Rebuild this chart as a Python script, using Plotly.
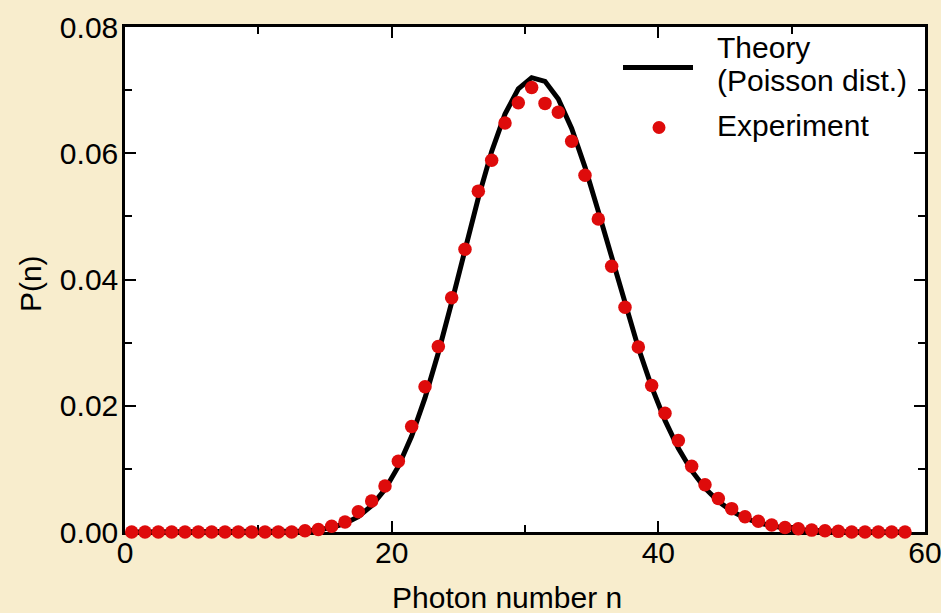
import plotly.graph_objects as go

# ---- data ----
photon_n = [0.5, 1.5, 2.5, 3.5, 4.5, 5.5, 6.5, 7.5, 8.5, 9.5,
            10.5, 11.5, 12.5, 13.5, 14.5, 15.5, 16.5, 17.5, 18.5, 19.5,
            20.5, 21.5, 22.5, 23.5, 24.5, 25.5, 26.5, 27.5, 28.5, 29.5,
            30.5, 31.5, 32.5, 33.5, 34.5, 35.5, 36.5, 37.5, 38.5, 39.5,
            40.5, 41.5, 42.5, 43.5, 44.5, 45.5, 46.5, 47.5, 48.5, 49.5,
            50.5, 51.5, 52.5, 53.5, 54.5, 55.5, 56.5, 57.5, 58.5]

theory_p = [0.0, 0.0, 0.0, 0.0, 0.0, 0.0, 0.0, 0.0, 0.0, 0.0,
            0.00001, 0.00003, 0.00007, 0.00016, 0.00034, 0.00070, 0.00135, 0.00244, 0.00417, 0.00675,
            0.01038, 0.01520, 0.02124, 0.02840, 0.03639, 0.04476, 0.05294, 0.06029, 0.06621, 0.07021,
            0.07197, 0.07139, 0.06860, 0.06392, 0.05781, 0.05079, 0.04338, 0.03605, 0.02917, 0.02300,
            0.01768, 0.01326, 0.00971, 0.00694, 0.00485, 0.00331, 0.00221, 0.00145, 0.00093, 0.00058,
            0.00036, 0.00022, 0.00013, 0.00007, 0.00004, 0.00002, 0.00001, 0.0, 0.0]

experiment_p = [0.0, 0.0, 0.0, 0.0, 0.0, 0.0, 0.0, 0.0, 0.0, 0.0,
                0.0, 0.0, 0.0, 0.0002, 0.0004, 0.0009, 0.0016, 0.0032, 0.0049, 0.0073,
                0.0112, 0.0167, 0.0230, 0.0294, 0.0371, 0.0448, 0.0540, 0.0589, 0.0648, 0.0680,
                0.0704, 0.0679, 0.0665, 0.0619, 0.0565, 0.0496, 0.0421, 0.0356, 0.0293, 0.0232,
                0.0188, 0.0145, 0.0104, 0.0075, 0.0053, 0.0037, 0.0024, 0.0017, 0.0011, 0.0007,
                0.0005, 0.0003, 0.0002, 0.0001, 0.0, 0.0, 0.0, 0.0, 0.0]

x_ticks = [0, 20, 40, 60]
y_ticks = [0.00, 0.02, 0.04, 0.06, 0.08]

FONT = "Liberation Sans, Arial, Helvetica, sans-serif"
FS = 30
RED = "#DE0B0B"
BG = "#F8EDCD"

fig = go.Figure()
fig.add_trace(go.Scatter(x=photon_n, y=theory_p, mode="lines",
                         line=dict(color="black", width=5),
                         name="Theory (Poisson dist.)", showlegend=False,
                         cliponaxis=False))
fig.add_trace(go.Scatter(x=photon_n, y=experiment_p, mode="markers",
                         marker=dict(color=RED, size=13.5, line=dict(width=0)),
                         name="Experiment", showlegend=False,
                         cliponaxis=False))

axis_common = dict(showline=True, linecolor="black", linewidth=2.5, mirror="ticks",
                   ticks="inside", ticklen=11, tickwidth=2, tickcolor="black",
                   showgrid=False, zeroline=False, layer="below traces",
                   automargin=False, ticklabeloverflow="allow",
                   tickfont=dict(family=FONT, size=FS, color="black"))

fig.update_xaxes(range=[0, 60], tickvals=x_ticks, ticktext=[str(v) for v in x_ticks],
                 minor=dict(dtick=10, tick0=0, ticks="inside", ticklen=7, tickwidth=2,
                            tickcolor="black", showgrid=False),
                 ticklabelstandoff=-8,
                 **axis_common)
fig.update_yaxes(range=[0, 0.08], tickvals=y_ticks, ticktext=[f"{v:.2f}" for v in y_ticks],
                 minor=dict(dtick=0.01, tick0=0, ticks="inside", ticklen=7, tickwidth=2,
                            tickcolor="black", showgrid=False),
                 ticklabelstandoff=-2,
                 **axis_common)

annotations = [
    dict(text="Photon number n", xref="paper", yref="paper", x=0.4775, y=-0.129,
         xanchor="center", yanchor="middle", showarrow=False,
         font=dict(family=FONT, size=FS, color="black")),
    dict(text="P(n)", xref="paper", yref="paper", x=-0.119, y=0.4925, textangle=-90,
         xanchor="center", yanchor="middle", showarrow=False,
         font=dict(family=FONT, size=FS, color="black")),
    dict(text="Theory", xref="paper", yref="paper", x=0.737, y=0.960,
         xanchor="left", yanchor="middle", showarrow=False,
         font=dict(family=FONT, size=FS, color="black")),
    dict(text="(Poisson dist.)", xref="paper", yref="paper", x=0.737, y=0.894,
         xanchor="left", yanchor="middle", showarrow=False,
         font=dict(family=FONT, size=FS, color="black")),
    dict(text="Experiment", xref="paper", yref="paper", x=0.737, y=0.805,
         xanchor="left", yanchor="middle", showarrow=False,
         font=dict(family=FONT, size=FS, color="black")),
]

shapes = [
    dict(type="line", xref="paper", yref="paper", x0=0.6225, x1=0.71, y0=0.920, y1=0.920,
         line=dict(color="black", width=5)),
    dict(type="circle", xref="paper", yref="paper", xsizemode="pixel", ysizemode="pixel",
         xanchor=0.6675, yanchor=0.801, x0=-6.5, x1=6.5, y0=-6.5, y1=6.5,
         fillcolor=RED, line=dict(width=0)),
]

fig.update_layout(
    width=941, height=613,
    margin=dict(l=125, r=16, t=27, b=81, autoexpand=False),
    paper_bgcolor=BG, plot_bgcolor="white",
    font=dict(family=FONT, size=FS, color="black"),
    annotations=annotations, shapes=shapes,
    showlegend=False,
)

fig.write_html("out.html",
               config={"displayModeBar": False},
               post_script="document.body.style.margin='0';document.body.style.padding='0';"
                           "document.body.style.overflow='hidden';")
